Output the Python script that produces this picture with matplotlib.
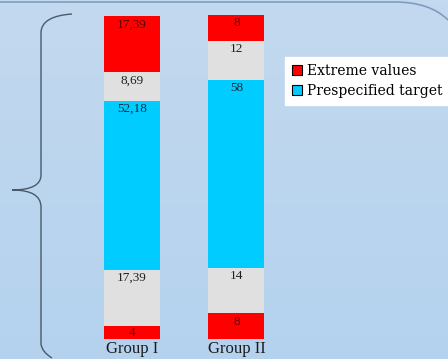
import numpy as np
import matplotlib
matplotlib.use('Agg')
import matplotlib.pyplot as plt
from matplotlib.path import Path
import matplotlib.patches as mpatches

plt.rcParams['font.family'] = ['Liberation Serif', 'DejaVu Serif']

groups = ['Group I', 'Group II']
# segments from bottom to top
extreme_low = [4, 8]
below_target = [17.39, 14]
target = [52.18, 58]
above_target = [8.69, 12]
extreme_high = [17.39, 8]

seg_values = [extreme_low, below_target, target, above_target, extreme_high]
seg_colors = ['#ff0000', '#e0e0e0', '#00ccff', '#e0e0e0', '#ff0000']
txt_colors = ['#5a0000', '#202020', '#1a2a3a', '#202020', '#5a0000']

W, H = 448, 359
fig = plt.figure(figsize=(W / 100, H / 100), dpi=100)

# background with gradient, border and brace
bg = fig.add_axes([0, 0, 1, 1])
grad = np.linspace(0, 1, 100).reshape(-1, 1)
cmap = matplotlib.colors.LinearSegmentedColormap.from_list('bg', ['#c3d9ef', '#b4d2ee'])
bg.imshow(grad, aspect='auto', cmap=cmap, extent=[0, W, H, 0])
bg.set_xlim(0, W)
bg.set_ylim(H, 0)
bg.axis('off')

border = Path([(0, 2), (395, 2), (430, 2), (448, 20)],
              [Path.MOVETO, Path.LINETO, Path.CURVE3, Path.CURVE3])
bg.add_patch(mpatches.PathPatch(border, fill=False, edgecolor='#7f9cc0', lw=1.2))

brace = Path([(72, 14), (42, 16), (41, 32),
              (41, 175),
              (41, 190), (12, 190),
              (41, 190), (41, 207),
              (41, 344),
              (42, 352), (52, 358)],
             [Path.MOVETO, Path.CURVE3, Path.CURVE3,
              Path.LINETO,
              Path.CURVE3, Path.CURVE3,
              Path.CURVE3, Path.CURVE3,
              Path.LINETO,
              Path.CURVE3, Path.CURVE3])
bg.add_patch(mpatches.PathPatch(brace, fill=False, edgecolor='#4a5a6a', lw=1.0))

# bars
ax = fig.add_axes([0, 20 / H, 1, 324 / H])
ax.patch.set_alpha(0)
x = np.arange(len(groups))
bottom = np.zeros(len(groups))
handles = []
for vals, col, tcol in zip(seg_values, seg_colors, txt_colors):
    bars = ax.bar(x, vals, 0.536, bottom=bottom, color=col, edgecolor='none')
    handles.append(bars)
    for xi, b, v in zip(x, bottom, vals):
        lbl = ('%g' % v).replace('.', ',')
        # label near the top of the segment, centred if the segment is small
        ax.text(xi, b + v - min(2.6, v / 2), lbl, ha='center', va='center',
                fontsize=9.5, color=tcol)
    bottom = bottom + np.array(vals)

ax.set_xlim(-1.263, 3.024)
ax.set_ylim(0, 100)
ax.set_xticks(x)
ax.set_xticklabels(groups, fontsize=12, color='#1a1a1a')
ax.tick_params(axis='x', length=0, pad=1.5)
ax.set_yticks([])
for s in ax.spines.values():
    s.set_visible(False)

leg = fig.legend([handles[4], handles[2]], ['Extreme values', 'Prespecified target'],
                 loc='upper left', bbox_to_anchor=(285 / W, 1 - 57 / H),
                 prop={'family': 'DejaVu Serif', 'size': 10},
                 frameon=True, fancybox=False, borderpad=0.5,
                 handlelength=0.75, handleheight=0.75, handletextpad=0.35,
                 labelspacing=0.45, borderaxespad=0)
leg.get_frame().set_facecolor('white')
leg.get_frame().set_edgecolor('white')
leg.get_frame().set_alpha(1)
for h in leg.legend_handles:
    h.set_edgecolor('black')
    h.set_linewidth(0.8)

fig.savefig('out.png', dpi=100)
